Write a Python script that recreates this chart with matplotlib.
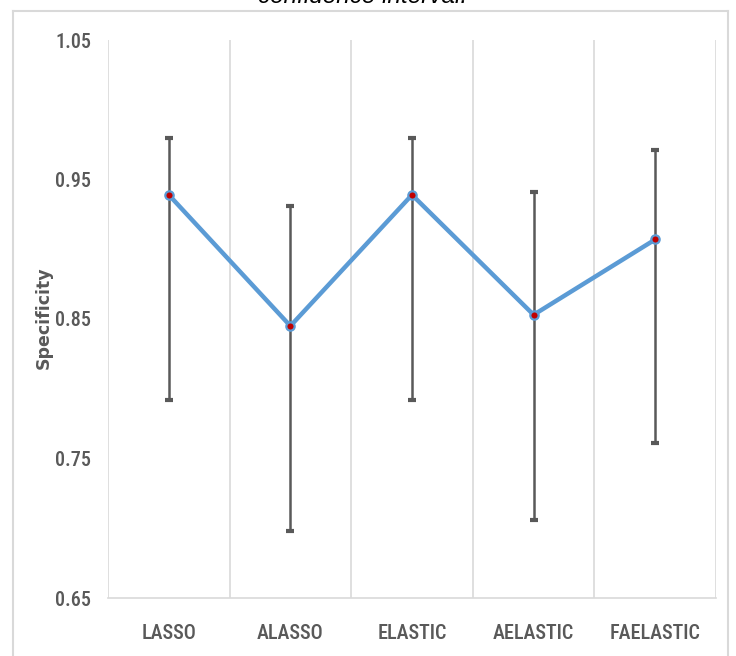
import matplotlib.pyplot as plt
from matplotlib.lines import Line2D

# Specificity per method with 95% confidence bounds
methods = ['LASSO', 'ALASSO', 'ELASTIC', 'AELASTIC', 'FAELASTIC']
specificity = [0.939, 0.845, 0.939, 0.853, 0.907]
ci_lower = [0.792, 0.698, 0.792, 0.706, 0.761]
ci_upper = [0.980, 0.931, 0.980, 0.941, 0.971]
yticks = [0.65, 0.75, 0.85, 0.95, 1.05]

gray = '#595959'
tick_font = ['Noto Sans Condensed', 'Roboto Condensed', 'Liberation Sans Narrow',
             'Noto Sans', 'Liberation Sans']

fig = plt.figure(figsize=(7.36, 6.56), dpi=100)
ax = fig.add_axes([108 / 736, 1 - 598 / 656, 608 / 736, 558 / 656])

x = list(range(len(methods)))
err_lo = [s - lo for s, lo in zip(specificity, ci_lower)]
err_hi = [hi - s for s, hi in zip(specificity, ci_upper)]

ax.errorbar(x, specificity, yerr=[err_lo, err_hi], fmt='none', ecolor=gray,
            elinewidth=1.8, capsize=3, capthick=3, zorder=2)
ax.plot(x, specificity, color='#5B9BD5', linewidth=3.2, zorder=3,
        solid_capstyle='round')
ax.plot(x, specificity, linestyle='none', marker='o', markersize=6,
        markerfacecolor='#C00000', markeredgecolor='#5B9BD5',
        markeredgewidth=1.6, zorder=4)

ax.set_xlim(-0.5, len(methods) - 0.5)
ax.set_ylim(0.65, 1.05)
ax.set_xticks(x)
ax.set_xticklabels(methods)
ax.set_yticks(yticks)
ax.set_yticklabels([f'{v:.2f}' for v in yticks])

# vertical separators between categories
for b in [i - 0.5 for i in range(len(methods) + 1)]:
    ax.axvline(b, color='#d9d9d9', linewidth=1.2, zorder=1)

for side in ['top', 'right', 'left']:
    ax.spines[side].set_visible(False)
ax.spines['bottom'].set_color('#d9d9d9')
ax.spines['bottom'].set_linewidth(1.2)

ax.tick_params(axis='both', length=0, colors=gray)
ax.tick_params(axis='x', pad=19)
ax.tick_params(axis='y', pad=12)
for lab in ax.get_xticklabels() + ax.get_yticklabels():
    lab.set_family(tick_font)
    lab.set_stretch('condensed')
    lab.set_fontweight('medium')
    lab.set_fontsize(14.5)

fig.text(44 / 736, 1 - 318 / 656, 'Specificity', rotation=90, ha='center',
         va='center', color=gray, fontsize=12.5, fontweight='bold',
         family='DejaVu Sans')

fig.text(363 / 736, 1 - 3 / 656, 'confidence interval.', ha='center',
         va='baseline', fontsize=17.5, style='italic', family='Liberation Sans')

# chart frame
frame = dict(color='#d9d9d9', linewidth=1.5)
fig.add_artist(Line2D([13 / 736, 13 / 736], [0, 1 - 11 / 656], **frame))
fig.add_artist(Line2D([728 / 736, 728 / 736], [0, 1 - 11 / 656], **frame))
fig.add_artist(Line2D([13 / 736, 728 / 736], [1 - 11 / 656, 1 - 11 / 656], **frame))

fig.savefig('out.png', dpi=100)
